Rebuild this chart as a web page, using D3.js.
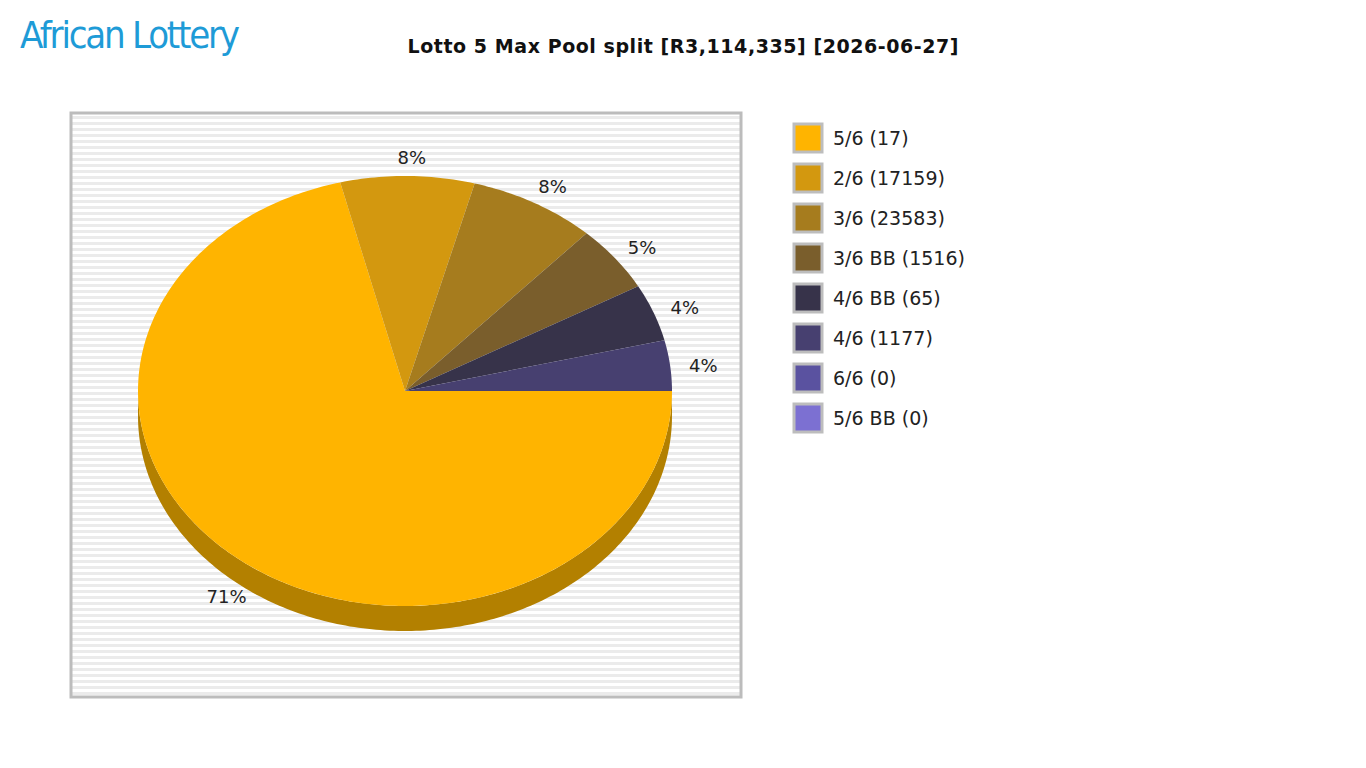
<!DOCTYPE html>
<html><head><meta charset="utf-8">
<script src="https://cdn.jsdelivr.net/npm/d3@7"></script>
<style>body{margin:0;background:#fff}svg{display:block}</style>
</head><body>
<svg id="c" width="1366" height="768"></svg>
<script>
const categories = ["5/6 (17)","2/6 (17159)","3/6 (23583)","3/6 BB (1516)","4/6 BB (65)","4/6 (1177)","6/6 (0)","5/6 BB (0)"];
const shares = [71.1, 8.1, 7.7, 5.0, 4.3, 3.8, 0, 0];
const pctLabels = ["71%","8%","8%","5%","4%","4%","",""];
const colors = ["#FFB400","#D3980F","#A67C1E","#7A5E2C","#37334A","#474070","#5A52A0","#7C70D2"];
const sideColors = ["#B38000","#94690A","#745612","#554120","#25222F","#302B4C","#3E3870","#5A4FA0"];

const svg = d3.select("#c");
const font = "DejaVu Sans, sans-serif";
svg.append("text").attr("x",20).attr("y",48).attr("font-family","DejaVu Sans Condensed, DejaVu Sans")
 .attr("font-size",38).attr("fill","#1E9BD7").attr("textLength",220).text("African Lottery");
svg.append("text").attr("x",683).attr("y",53).attr("text-anchor","middle").attr("font-family",font)
 .attr("font-weight","bold").attr("font-size",19).attr("fill","#111").attr("textLength",551).text("Lotto 5 Max Pool split [R3,114,335] [2026-06-27]");

const px=71,py=113,pw=670,ph=584;
svg.append("rect").attr("x",px).attr("y",py).attr("width",pw).attr("height",ph).attr("fill","#fff");
const stripeY = d3.range(py+3, py+ph-2, 6);
svg.selectAll("rect.s").data(stripeY).join("rect").attr("class","s")
 .attr("x",px).attr("y",d=>d).attr("width",pw).attr("height",3).attr("fill","#ebebeb");
svg.append("rect").attr("x",px).attr("y",py).attr("width",pw).attr("height",ph)
 .attr("fill","none").attr("stroke","#bcbcbc").attr("stroke-width",3);

const cx=405, cy=391, rx=267, ry=215, depth=25;
const pie = d3.pie().sort(null).value(d=>d).startAngle(Math.PI/2).endAngle(Math.PI/2+2*Math.PI);
const arcs = pie(shares);
const pt = (a,dy=0)=>[cx+rx*Math.sin(a), cy-ry*Math.cos(a)+dy];
function slicePath(d){
  const n=Math.max(2,Math.ceil((d.endAngle-d.startAngle)*60));
  const pts=d3.range(n+1).map(i=>pt(d.startAngle+(d.endAngle-d.startAngle)*i/n));
  return "M"+cx+","+cy+"L"+pts.map(p=>p.join(",")).join("L")+"Z";
}
function sidePath(d){
  const s=Math.max(d.startAngle,Math.PI/2), e=Math.min(d.endAngle,3*Math.PI/2);
  if(e<=s) return null;
  const n=Math.ceil((e-s)*60);
  const top=d3.range(n+1).map(i=>pt(s+(e-s)*i/n));
  const bot=top.map(p=>[p[0],p[1]+depth]).reverse();
  return "M"+top.concat(bot).map(p=>p.join(",")).join("L")+"Z";
}
svg.selectAll("path.side").data(arcs.filter(d=>sidePath(d))).join("path")
 .attr("d",sidePath).attr("fill",d=>sideColors[d.index]);
svg.selectAll("path.top").data(arcs.filter(d=>d.value>0)).join("path")
 .attr("d",slicePath).attr("fill",d=>colors[d.index]);

svg.selectAll("text.pl").data(arcs.filter(d=>d.value>0)).join("text")
 .attr("font-family",font).attr("font-size",18).attr("fill","#222").attr("text-anchor","middle")
 .attr("x",d=>{const m=(d.startAngle+d.endAngle)/2;return cx+rx*1.11*Math.sin(m)+4;})
 .attr("y",d=>{const m=(d.startAngle+d.endAngle)/2;const c=-Math.cos(m);return cy+ry*1.1*c+(c>0?depth-8:0)+9;})
 .text(d=>pctLabels[d.index]);

const lg = svg.selectAll("g.lg").data(categories).join("g").attr("transform",(d,i)=>`translate(793,${123+i*40})`);
lg.append("rect").attr("x",1).attr("y",1).attr("width",28).attr("height",28)
 .attr("fill",(d,i)=>colors[i]).attr("stroke","#bdbdbd").attr("stroke-width",3);
lg.append("text").attr("x",40).attr("y",22).attr("font-family",font).attr("font-size",19).attr("fill","#222").text(d=>d);
</script>
</body></html>
